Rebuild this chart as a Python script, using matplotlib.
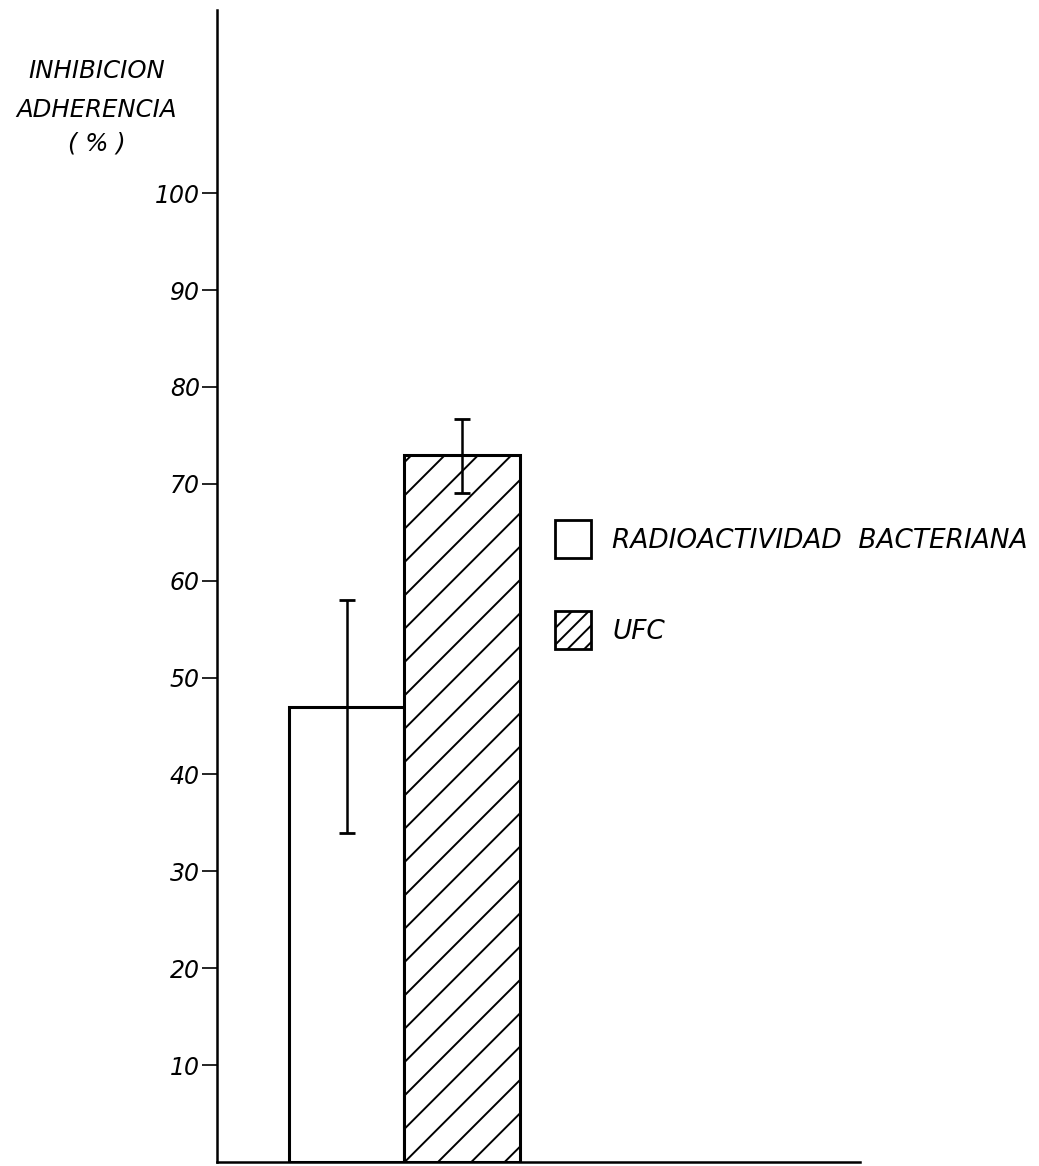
import matplotlib
matplotlib.use("Agg")
import matplotlib.pyplot as plt
from matplotlib.patches import Patch

# ---- data ----
series_labels = ["RADIOACTIVIDAD  BACTERIANA", "UFC"]
values = [47, 73]
err_low = [34, 69]
err_high = [58, 76.7]
ytick_values = [10, 20, 30, 40, 50, 60, 70, 80, 90, 100]
ytick_labels = ["10", "20", "30", "40", "50", "60", "70", "80", "90", "100"]
ylabel_lines = ["INHIBICION", "ADHERENCIA", "( % )"]
hatches = ["", "//"]
legend_hatches = ["", "////"]

W, H, DPI = 1039, 1166, 200
plt.rcParams["hatch.linewidth"] = 0.7
fig = plt.figure(figsize=(W / DPI, H / DPI), dpi=DPI)
fig.patch.set_facecolor("white")

ax = fig.add_axes([217 / W, 4 / H, (860 - 217) / W, (1156 - 4) / H])

x = list(range(len(values)))
lower = [v - lo for v, lo in zip(values, err_low)]
upper = [hi - v for v, hi in zip(values, err_high)]

for xi, v, h in zip(x, values, hatches):
    ax.bar(xi, v, width=1.0, facecolor="white", edgecolor="black",
           linewidth=1.1, hatch=h, zorder=2)

ax.errorbar(x, values, yerr=[lower, upper], fmt="none", ecolor="black",
            elinewidth=0.9, capsize=3.0, capthick=1.0, zorder=3)

ax.set_xlim(-1.13, 4.46)
ax.set_ylim(0, 118.9)
ax.set_yticks(ytick_values)
ax.set_yticklabels(ytick_labels, fontsize=8.5, fontstyle="italic")
ax.set_xticks([])
ax.tick_params(axis="y", length=5.4, width=0.6, pad=0.8, direction="out")
for s in ["top", "right"]:
    ax.spines[s].set_visible(False)
for s in ["left", "bottom"]:
    ax.spines[s].set_linewidth(0.9)

# y label (three centred lines)
baselines = [78, 117, 151]
for txt, yb in zip(ylabel_lines, baselines):
    fig.text(97 / W, 1 - yb / H, txt, ha="center", va="baseline",
             fontsize=8.8, fontstyle="italic")

handles = [Patch(facecolor="white", edgecolor="black", linewidth=1.0, hatch=h)
           for h in legend_hatches]
fig.legend(handles, series_labels, loc="upper left",
           bbox_to_anchor=(555 / W, 1 - 520 / H), frameon=False,
           borderpad=0, borderaxespad=0, handlelength=1.36, handleheight=1.85,
           handletextpad=0.8, labelspacing=2.0,
           prop={"size": 9.5, "style": "italic"})

fig.savefig("out.png", dpi=DPI, facecolor="white")
